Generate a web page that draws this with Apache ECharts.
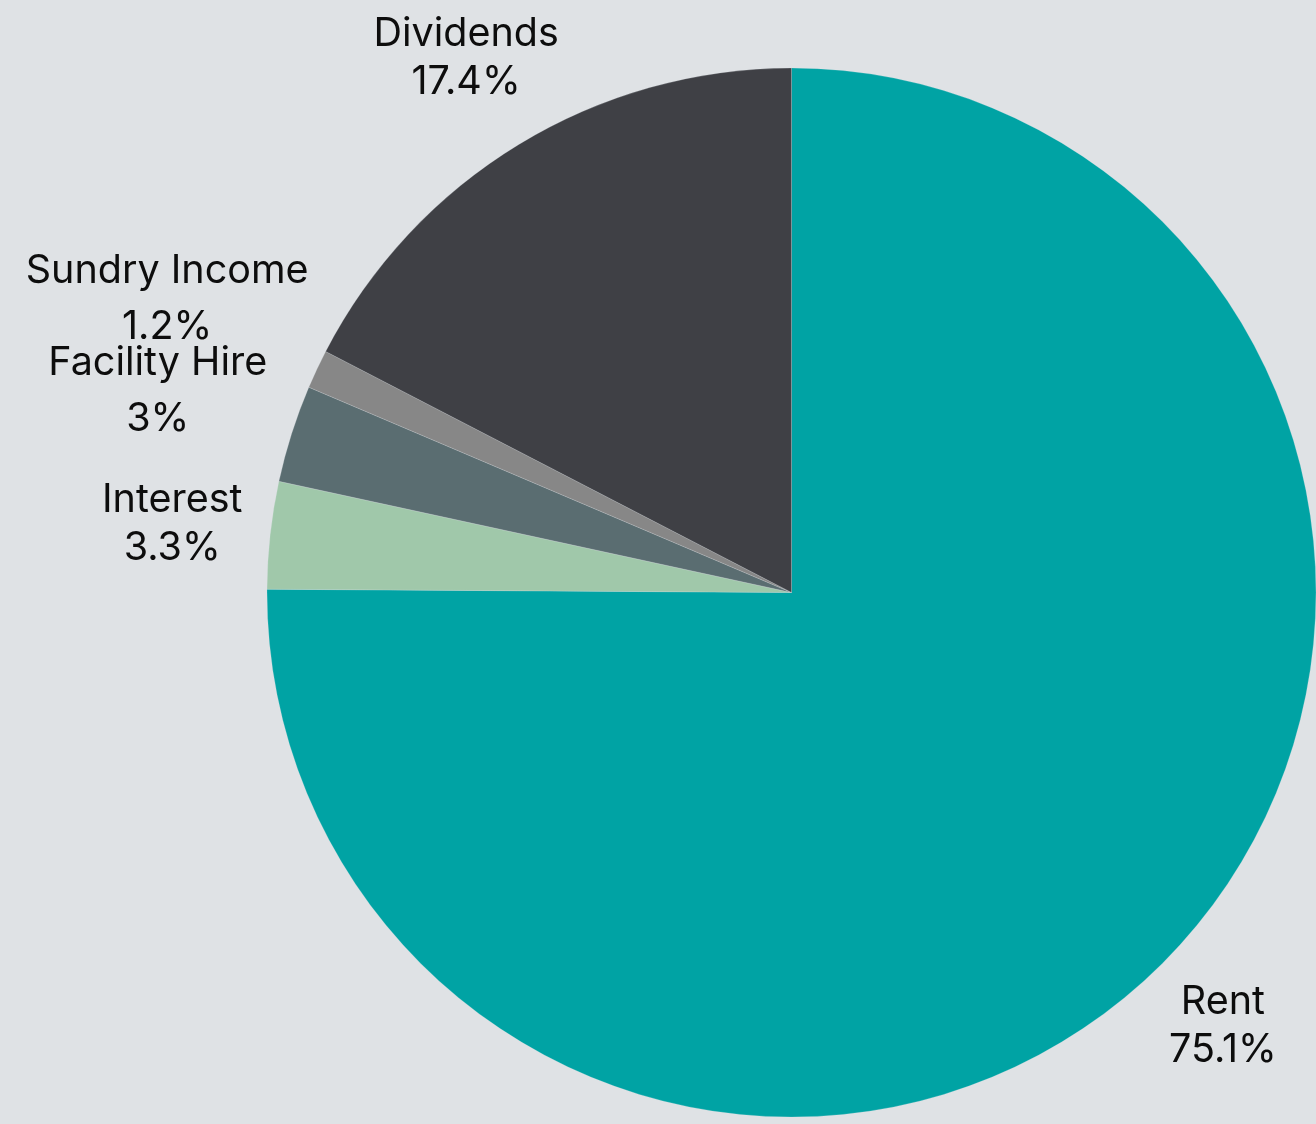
<!DOCTYPE html>
<html>
<head>
<meta charset="utf-8">
<title>Income breakdown</title>
<script src="https://cdn.jsdelivr.net/npm/echarts@6/dist/echarts.min.js"></script>
<style>
  html, body { margin: 0; padding: 0; background: #dfe2e5; }
  #chart { width: 1316px; height: 1124px; }
</style>
</head>
<body>
<div id="chart"></div>
<script>
// Income sources, share of total (%)
const categories = ['Rent', 'Interest', 'Facility Hire', 'Sundry Income', 'Dividends'];
const shares = [75.1, 3.3, 3, 1.2, 17.4];

const sliceColors = ['#00a3a4', '#a0c8aa', '#5a6d71', '#878787', '#3f4045'];

// Pie geometry (px)
const CX = 791.5, CY = 592.5, R = 524.5;
// Distance of each label centre from the pie centre
const labelRadius = [612, 623, 665, 690, 626];
const labelLineHeight = [48, 48, 56, 56, 48];

const chart = echarts.init(document.getElementById('chart'), null, { renderer: 'canvas' });

chart.setOption({
  backgroundColor: '#dfe2e5',
  animation: false,
  series: [{
    type: 'pie',
    center: [CX, CY],
    radius: [0, R],
    startAngle: 90,
    clockwise: true,
    avoidLabelOverlap: false,
    label: {
      show: true,
      position: 'inside',
      color: '#0d0d0d',
      fontFamily: 'Inter',
      fontWeight: 'normal',
      fontSize: 39.5,
      lineHeight: 48,
      formatter: p => p.name + '\n' + p.value + '%'
    },
    labelLine: { show: false },
    itemStyle: { borderColor: 'rgba(223,226,229,0.35)', borderWidth: 0.6 },
    emphasis: { disabled: true },
    // push each label out along its slice's mid-angle
    labelLayout: function (p) {
      const lr = p.labelRect;
      const mx = lr.x + lr.width / 2 - CX;
      const my = lr.y + lr.height / 2 - CY;
      const d = Math.sqrt(mx * mx + my * my) || 1;
      const rr = labelRadius[p.dataIndex];
      return {
        x: CX + mx / d * rr,
        y: CY + my / d * rr,
        align: 'center',
        verticalAlign: 'middle'
      };
    },
    data: categories.map((name, i) => ({
      name: name,
      value: shares[i],
      itemStyle: { color: sliceColors[i] },
      label: { lineHeight: labelLineHeight[i] }
    }))
  }]
});
</script>
</body>
</html>
